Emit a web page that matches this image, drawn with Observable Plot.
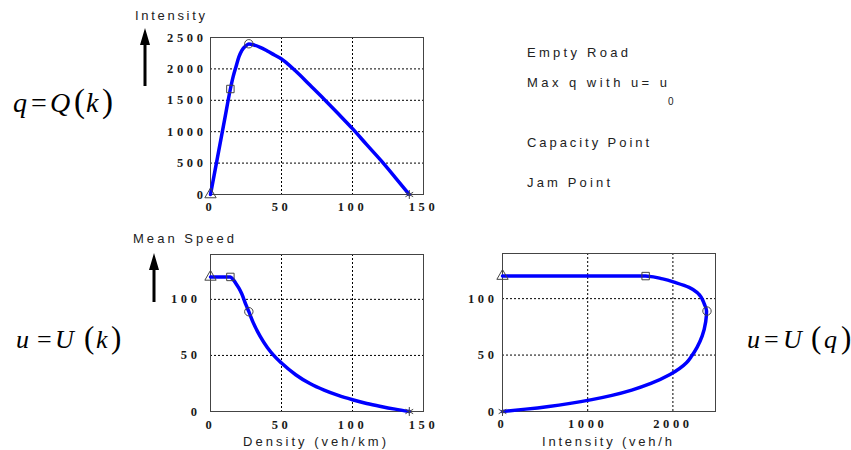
<!DOCTYPE html>
<html><head><meta charset="utf-8">
<script src="https://cdn.jsdelivr.net/npm/d3@7"></script>
<script src="https://cdn.jsdelivr.net/npm/@observablehq/plot@0.6"></script>
<style>
body{margin:0;background:#fff}
#wrap{position:relative;width:851px;height:450px;overflow:hidden;background:#fff}
#wrap svg{position:absolute;left:0;top:0}
svg.fdpanel text{font-family:"Liberation Serif","Times New Roman",serif !important;font-size:12.5px !important;font-weight:bold;letter-spacing:3.6px;fill:#1a1a1a}
</style></head><body><div id="wrap"></div>
<script>
// Fundamental diagram samples
const density   = [0, 5, 10, 14, 16, 18, 20, 22, 25, 27, 30, 35, 40, 45, 50, 60, 70, 80, 90, 100, 110, 120, 130, 140];
const speed     = [120, 120, 120, 120, 117.5, 114, 110, 105, 95, 89, 79.5, 67, 57.1, 49.4, 43.2, 32.8, 24.9, 19, 14.3, 10.5, 7.2, 4.5, 2.1, 0];
const intensity = [0, 600, 1200, 1680, 1880, 2040, 2190, 2290, 2370, 2395, 2385, 2344, 2285, 2222, 2159, 1966, 1742, 1517, 1285, 1048, 794, 543, 274, 0];

// Special points
const pointNames     = ["Empty Road", "Max q with u= u", "Capacity Point", "Jam Point"];
const pointSymbols   = ["triangle", "square", "circle", "asterisk"];
const pointDensity   = [0, 14, 27, 140];
const pointSpeed     = [120, 120, 89, 0];
const pointIntensity = [0, 1680, 2400, 0];

// Ticks
const densityTicks      = [0, 50, 100, 150];
const densityGrid       = [50, 100];
const intensityTicksQ   = [0, 500, 1000, 1500, 2000, 2500];
const intensityGridQ    = [500, 1000, 1500, 2000];
const speedTicks        = [0, 50, 100];
const speedGrid         = [50, 100];
const intensityTicksU   = [0, 1000, 2000];
const intensityGridU    = [1000, 2000];

const curve = density.map((k, i) => ({k, u: speed[i], q: intensity[i]}));
const points = pointNames.map((name, i) => ({name, k: pointDensity[i], u: pointSpeed[i], q: pointIntensity[i]}));

const W = 851, H = 450;
const serif = "'Liberation Serif', 'Times New Roman', serif";
function panel({xf, yf, frame, xDomain, yDomain, xTicks, yTicks, xGrid, yGrid, xPad, yPad, interp}) {
  const [l, t, r, b] = frame;
  return Plot.plot({
    className: "fdpanel",
    width: W, height: H,
    marginLeft: l, marginTop: t, marginRight: W - r, marginBottom: H - b,
    style: {background: "transparent", color: "#111"},
    x: {domain: xDomain},
    y: {domain: yDomain},
    symbol: {domain: pointNames, range: pointSymbols, legend: false},
    marks: [
      Plot.ruleX(xGrid, {stroke: "#000", strokeDasharray: "2,2", strokeWidth: 1}),
      Plot.ruleY(yGrid, {stroke: "#000", strokeDasharray: "2,2", strokeWidth: 1}),
      Plot.frame({stroke: "#444", strokeWidth: 1}),
      Plot.axisX({ticks: xTicks, tickSize: 0, tickPadding: xPad, label: null, tickFormat: d => `${d}`}),
      Plot.axisY({ticks: yTicks, tickSize: 0, tickPadding: yPad, label: null, tickFormat: d => `${d}`}),
      Plot.line(curve, {x: xf, y: yf, stroke: "#0000ff", strokeWidth: 3.5, strokeLinejoin: "round", strokeLinecap: "round", curve: interp}),
      Plot.dot(points, {x: xf, y: yf, symbol: "name", r: 4.2, stroke: "#444", strokeWidth: 1, fill: "none"})
    ]
  });
}

const wrap = document.getElementById("wrap");
wrap.append(panel({xf: "k", yf: "q", frame: [210, 37, 423, 194], xDomain: [0, 150], yDomain: [0, 2500], interp: "monotone-x",
  xTicks: densityTicks, yTicks: intensityTicksQ, xGrid: densityGrid, yGrid: intensityGridQ, xPad: 7.5, yPad: 4}));
wrap.append(panel({xf: "k", yf: "u", frame: [210, 254, 423, 411], xDomain: [0, 150], yDomain: [0, 140], interp: "monotone-x",
  xTicks: densityTicks, yTicks: speedTicks, xGrid: densityGrid, yGrid: speedGrid, xPad: 8.5, yPad: 10}));
wrap.append(panel({xf: "q", yf: "u", frame: [502, 253, 715, 411], xDomain: [0, 2500], yDomain: [0, 140], interp: "monotone-y",
  xTicks: intensityTicksU, yTicks: speedTicks, xGrid: intensityGridU, yGrid: speedGrid, xPad: 7.5, yPad: 5}));

// Decoration layer: labels, legend text, formulas, arrows
const svg = d3.select(wrap).append("svg").attr("width", W).attr("height", H);
function sans(str, x, y, len) {
  return svg.append("text").attr("x", x).attr("y", y)
    .attr("font-family", "'Liberation Sans', Arial, sans-serif").attr("font-size", 13).attr("fill", "#222")
    .attr("textLength", len).attr("lengthAdjust", "spacing").text(str);
}
sans("Intensity", 135, 20, 70);
sans("Mean Speed", 133, 243, 101);
sans("Density (veh/km)", 243, 446, 143);
sans("Intensity (veh/h", 542, 446, 130);
sans(pointNames[0], 527, 57, 101);
sans(pointNames[1], 527, 87, 140);
svg.append("text").attr("x", 668).attr("y", 105).attr("font-family", "'Liberation Sans', Arial, sans-serif")
  .attr("font-size", 10).attr("fill", "#222").text("0");
sans(pointNames[2], 527, 147, 122);
sans(pointNames[3], 527, 187, 83);

function arrow(x, tip, base, end) {
  svg.append("path").attr("fill", "#000")
    .attr("d", `M${x},${tip}L${x + 5},${base}L${x + 1.5},${base}L${x + 1.5},${end}L${x - 1.5},${end}L${x - 1.5},${base}L${x - 5},${base}Z`);
}
arrow(145, 28, 45, 86);
arrow(154, 253, 270, 302);

function formula(parts, y, size, parenSize) {
  const t = svg.append("text").attr("y", y).attr("font-family", serif).attr("fill", "#000");
  for (const [s, x, kind] of parts) {
    t.append("tspan").attr("x", x).attr("y", y)
      .attr("font-style", kind === "i" ? "italic" : "normal")
      .attr("font-size", kind === "p" ? parenSize : size).text(s);
  }
}
formula([["q", 13, "i"], ["=", 31, "n"], ["Q", 50, "i"], ["(", 74, "p"], ["k", 86, "i"], [")", 102, "p"]], 112, 28, 33);
formula([["u", 16, "i"], ["=", 37, "n"], ["U", 55, "i"], ["(", 84, "p"], ["k", 96, "i"], [")", 111, "p"]], 348, 26, 31);
formula([["u", 747, "i"], ["=", 764, "n"], ["U", 783, "i"], ["(", 811, "p"], ["q", 824, "i"], [")", 841, "p"]], 348, 26, 31);
</script></body></html>
